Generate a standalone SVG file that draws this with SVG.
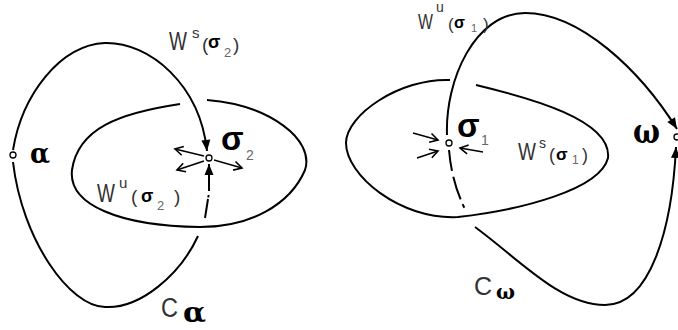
<svg xmlns="http://www.w3.org/2000/svg" width="678" height="330" viewBox="0 0 678 330">
<defs>
<marker id="fa" markerUnits="userSpaceOnUse" markerWidth="14" markerHeight="12" viewBox="-12 -6 14 12" refX="0" refY="0" orient="auto">
<path d="M-11,-4.5 L0,0 L-11,4.5 z" fill="#000"/>
</marker>
<marker id="oa" markerUnits="userSpaceOnUse" markerWidth="12" markerHeight="12" viewBox="-10 -6 12 12" refX="0" refY="0" orient="auto">
<path d="M-8,-4.5 L0,0 L-8,4.5" fill="none" stroke="#000" stroke-width="1.6"/>
</marker>
</defs>
<style>
.c{fill:none;stroke:#000;stroke-width:2;stroke-linecap:butt}
.s{fill:none;stroke:#000;stroke-width:1.4}
.pt{fill:#fff;stroke:#000;stroke-width:1.3}
.w{font-family:"Liberation Sans",Arial,sans-serif;fill:#333}
.g{font-family:"Liberation Sans",Arial,sans-serif;font-weight:bold;fill:#000}
.gs{font-family:"DejaVu Serif","Liberation Serif",serif;font-weight:bold;fill:#000}
.n{font-family:"Liberation Sans",Arial,sans-serif;fill:#666}
</style>
<rect width="678" height="330" fill="#fff"/>
<g id="connectors">
<path class="c" d="M13,150 C22,95 60,45 105,43 C150,42 200,85 207,151" marker-end="url(#fa)"/>
<path class="c" d="M13,162 C22,240 70,307 105,307 C140,309 180,275 198,236"/>
<path class="c" d="M205,218 L208,199"/>
<path class="c" d="M208.3,197.5 L208.6,195"/>
<path class="c" d="M209,191 L209,164" marker-end="url(#fa)"/>
<path class="c" d="M180,104 C120,113 78,128 72,170 C68,205 120,226 200,227 C250,227 290,205 305,170 C315,140 270,105 207,100"/>
<path class="s" d="M204,156 L175,149" marker-end="url(#oa)"/>
<path class="s" d="M204,161 L177,170" marker-end="url(#oa)"/>
<path class="s" d="M214,160 L242,168" marker-end="url(#oa)"/>
<path class="c" d="M447,135 C445,80 475,13 525,13 C580,13 640,70 677,129" marker-end="url(#fa)"/>
<path class="c" d="M475,227 C520,260 560,305 605,305 C650,305 672,230 676,147" marker-end="url(#fa)"/>
<path class="c" d="M449,150 Q452,185 467,213" stroke-dasharray="21 6 24 5 4 100"/>
<path class="c" d="M450,80 C400,78 346,115 346,143 C346,175 400,220 458,217 C520,210 600,190 608,158 C612,120 530,98 476,85"/>
<path class="s" d="M413,133 L438,140" marker-end="url(#oa)"/>
<path class="s" d="M417,158 L438,151" marker-end="url(#oa)"/>
<path class="s" d="M483,152 L460,148" marker-end="url(#oa)"/>
</g>
<g id="alpha">
<circle class="pt" cx="13" cy="155" r="3"/>
<text class="gs" x="30" y="163" font-size="28" textLength="20" lengthAdjust="spacingAndGlyphs">α</text>
</g>
<g id="sigma2">
<circle class="pt" cx="209" cy="158" r="3"/>
<text class="g" x="221" y="150" font-size="33">σ</text>
<text class="n" x="246" y="160" font-size="14">2</text>
</g>
<g id="omega">
<circle class="pt" cx="677" cy="137" r="3"/>
<text class="gs" x="633" y="143" font-size="33" textLength="27" lengthAdjust="spacingAndGlyphs">ω</text>
</g>
<g id="sigma1">
<circle class="pt" cx="449" cy="143" r="3"/>
<text class="g" x="457" y="137" font-size="33">σ</text>
<text class="n" x="481" y="145" font-size="14">1</text>
</g>
<g id="Ws_sigma2">
<text class="w" font-size="25" transform="translate(169,50) scale(0.76,1)">W</text>
<text class="w" x="192" y="38" font-size="15">s</text>
<text class="w" x="202" y="51" font-size="19">(</text>
<text class="g" x="208" y="48" font-size="18">σ</text>
<text class="n" x="224" y="57" font-size="13">2</text>
<text class="w" x="233" y="51" font-size="19">)</text>
</g>
<g id="Wu_sigma2">
<text class="w" font-size="25" transform="translate(97,202) scale(0.76,1)">W</text>
<text class="w" x="119" y="188" font-size="15">u</text>
<text class="w" x="131" y="203" font-size="19">(</text>
<text class="g" x="141" y="202" font-size="18">σ</text>
<text class="n" x="157" y="210" font-size="13">2</text>
<text class="w" x="174" y="203" font-size="19">)</text>
</g>
<g id="Ws_sigma1">
<text class="w" font-size="24" transform="translate(518,160) scale(0.79,1)">W</text>
<text class="w" x="539" y="148" font-size="14">s</text>
<text class="w" x="549" y="161" font-size="18">(</text>
<text class="g" x="556" y="160" font-size="17">σ</text>
<text class="n" x="572" y="164" font-size="12">1</text>
<text class="w" x="582" y="161" font-size="18">)</text>
</g>
<g id="Wu_sigma1">
<text class="w" font-size="22" transform="translate(418,29) scale(0.72,1)">W</text>
<text class="w" x="436" y="12" font-size="14">u</text>
<text class="w" x="448" y="30" font-size="17">(</text>
<text class="g" x="454" y="28" font-size="16">σ</text>
<text class="n" x="471" y="32" font-size="11">1</text>
<text class="w" x="483" y="30" font-size="17">)</text>
</g>
<g id="C_alpha">
<text class="w" font-size="27" transform="translate(161,317) scale(0.87,1)">C</text>
<text class="gs" x="183" y="322" font-size="27" textLength="23" lengthAdjust="spacingAndGlyphs">α</text>
</g>
<g id="C_omega">
<text class="w" x="474" y="295" font-size="25">C</text>
<text class="gs" x="496" y="299" font-size="21" textLength="19" lengthAdjust="spacingAndGlyphs">ω</text>
</g>
</svg>
